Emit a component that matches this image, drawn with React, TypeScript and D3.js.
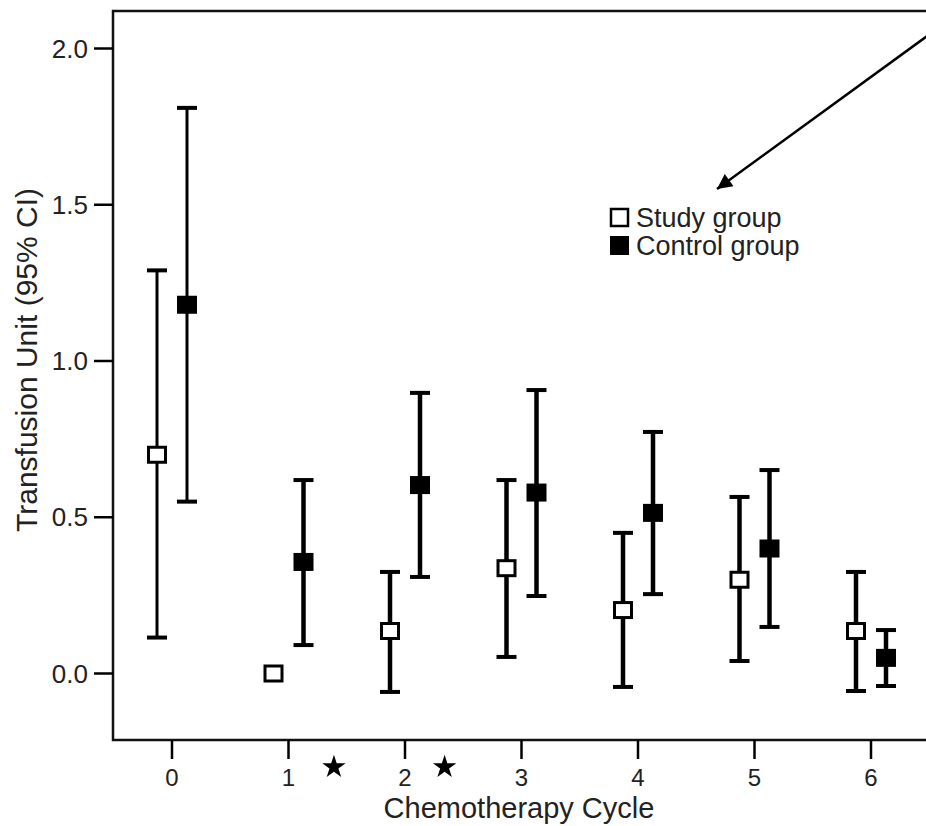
import React from "react";
import * as d3 from "d3";

const cycles = [0, 1, 2, 3, 4, 5, 6];
const studyMean = [0.70, 0.0, 0.136, 0.337, 0.203, 0.30, 0.136];
const studyLow = [0.115, null, -0.059, 0.053, -0.043, 0.04, -0.056];
const studyHigh = [1.29, null, 0.325, 0.619, 0.45, 0.565, 0.325];
const controlMean = [1.18, 0.357, 0.603, 0.579, 0.514, 0.40, 0.05];
const controlLow = [0.55, 0.091, 0.309, 0.248, 0.254, 0.149, -0.04];
const controlHigh = [1.81, 0.619, 0.898, 0.907, 0.773, 0.651, 0.139];
const yTicks = [0.0, 0.5, 1.0, 1.5, 2.0];
const starPositions = [1.39, 2.34];
const legendLabels = ["Study group", "Control group"];

const W = 926;
const H = 826;
const left = 113;
const top = 11;
const bottom = 740;
const FONT = "'Liberation Sans', Arial, Helvetica, sans-serif";

export default function App() {
  const x = d3.scaleLinear().domain([0, 6]).range([172, 871]);
  const y = d3.scaleLinear().domain([0, 2]).range([673.5, 48.5]);
  const off = 15;
  const capW = 20;
  const mw = 20;
  const mh = 18;
  const star = d3.symbol().type(d3.symbolStar).size(170)() as string;

  const bars = (
    means: number[],
    lows: (number | null)[],
    highs: (number | null)[],
    dx: number,
    filled: boolean
  ) =>
    cycles.map((c, i) => {
      const cx = x(c) + dx;
      const sw = i === 0 ? 3 : 4.5;
      const lo = lows[i];
      const hi = highs[i];
      return (
        <g key={`${filled}-${c}`}>
          {lo !== null && hi !== null && (
            <g stroke="#000" strokeWidth={sw}>
              <line x1={cx} x2={cx} y1={y(lo)} y2={y(hi)} />
              <line x1={cx - capW / 2} x2={cx + capW / 2} y1={y(lo)} y2={y(lo)} strokeWidth={4} />
              <line x1={cx - capW / 2} x2={cx + capW / 2} y1={y(hi)} y2={y(hi)} strokeWidth={4} />
            </g>
          )}
          <rect
            x={cx - mw / 2 + (filled ? 0 : 1.5)}
            y={y(means[i]) - mh / 2 + (filled ? 0 : 1.5)}
            width={filled ? mw : mw - 3}
            height={filled ? mh : mh - 3}
            fill={filled ? "#000" : "#fff"}
            stroke={filled ? "none" : "#000"}
            strokeWidth={3}
          />
        </g>
      );
    });

  return (
    <svg width={W} height={H} style={{ position: "absolute", left: 0, top: 0, background: "#fff" }}>
      <defs>
        <marker id="ah" viewBox="0 0 10 10" refX="10" refY="5" markerWidth="8" markerHeight="6" orient="auto" markerUnits="strokeWidth">
          <path d="M0,0 L10,5 L0,10 z" fill="#000" />
        </marker>
      </defs>
      {/* frame */}
      <rect x={left} y={top} width={W + 40 - left} height={bottom - top} fill="none" stroke="#111" strokeWidth={2.5} />
      {/* y axis ticks */}
      {yTicks.map((t) => (
        <g key={t}>
          <line x1={94} x2={left} y1={y(t)} y2={y(t)} stroke="#000" strokeWidth={2.5} />
          <text x={88} y={y(t)} dy="0.35em" textAnchor="end" fontFamily={FONT} fontSize={26} fill="#222">
            {t.toFixed(1)}
          </text>
        </g>
      ))}
      {/* x axis ticks */}
      {cycles.map((c) => (
        <g key={c}>
          <line x1={x(c)} x2={x(c)} y1={bottom} y2={759} stroke="#000" strokeWidth={2.5} />
          <text x={x(c)} y={786} textAnchor="middle" fontFamily={FONT} fontSize={24} fill="#222">
            {c}
          </text>
        </g>
      ))}
      {starPositions.map((s, i) => (
        <path key={i} d={star} transform={`translate(${x(s)},${767})`} fill="#000" />
      ))}
      <text x={519} y={818} textAnchor="middle" fontFamily={FONT} fontSize={29} fill="#222">
        Chemotherapy Cycle
      </text>
      <text
        transform={`translate(37,${360}) rotate(-90)`}
        textAnchor="middle"
        fontFamily={FONT}
        fontSize={30}
        fill="#222"
      >
        Transfusion Unit (95% CI)
      </text>
      {bars(studyMean, studyLow, studyHigh, -off, false)}
      {bars(controlMean, controlLow, controlHigh, off, true)}
      {/* legend */}
      <rect x={611} y={209} width={17} height={17} fill="#fff" stroke="#000" strokeWidth={2.5} />
      <rect x={610} y={236} width={19} height={19} fill="#000" />
      <text x={636} y={227} fontFamily={FONT} fontSize={27} fill="#222">{legendLabels[0]}</text>
      <text x={636} y={255} fontFamily={FONT} fontSize={27} fill="#222">{legendLabels[1]}</text>
      {/* arrow */}
      <line x1={930} y1={34} x2={717} y2={189} stroke="#000" strokeWidth={2.5} markerEnd="url(#ah)" />
    </svg>
  );
}
